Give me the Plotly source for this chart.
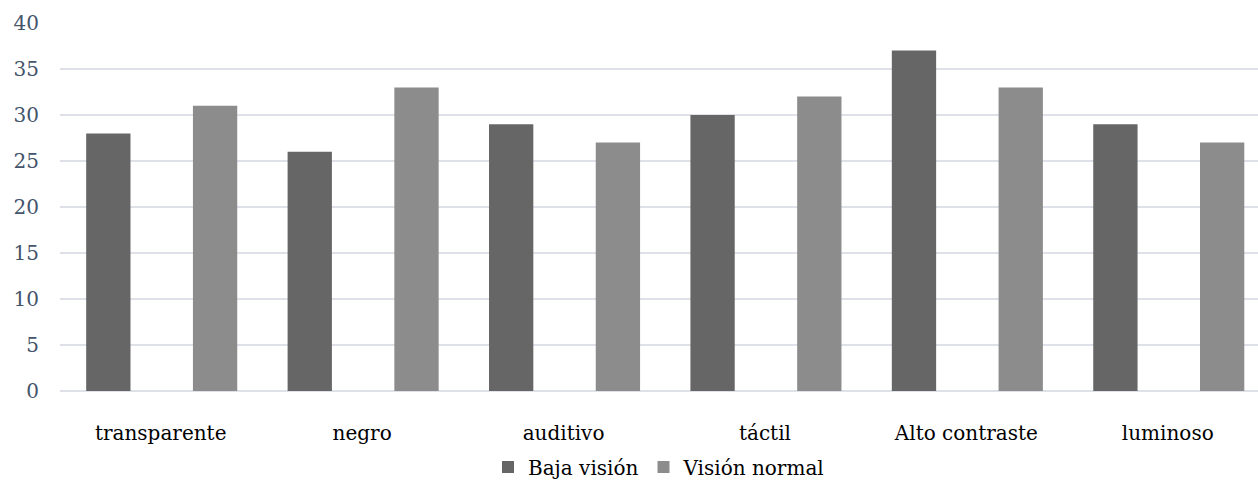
import plotly.graph_objects as go

categories = ["transparente", "negro", "auditivo", "táctil", "Alto contraste", "luminoso"]
baja_vision = [28, 26, 29, 30, 37, 29]
vision_normal = [31, 33, 27, 32, 33, 27]
y_ticks = [0, 5, 10, 15, 20, 25, 30, 35, 40]

x_idx = list(range(len(categories)))

fig = go.Figure()
fig.add_trace(go.Bar(
    x=x_idx, y=baja_vision, name="Baja visión",
    marker=dict(color="#666666", line=dict(width=0)),
    width=0.22, offset=-0.37,
))
fig.add_trace(go.Bar(
    x=x_idx, y=vision_normal, name="Visión normal",
    marker=dict(color="#8c8c8c", line=dict(width=0)),
    width=0.22, offset=0.16,
))

fig.update_layout(
    width=1258, height=485,
    margin=dict(l=60, r=0, t=23, b=94, autoexpand=False),
    plot_bgcolor="white", paper_bgcolor="white",
    font=dict(family="DejaVu Serif", size=20, color="#000000"),
    barmode="overlay",
    showlegend=True,
    legend=dict(
        orientation="h", x=0.5, xanchor="center",
        yref="container", y=0.037, yanchor="middle",
        font=dict(family="DejaVu Serif", size=20, color="#000000"),
        itemwidth=30, traceorder="normal",
    ),
    xaxis=dict(
        tickmode="array", tickvals=x_idx, ticktext=categories,
        range=[-0.5, 5.448], showgrid=False, zeroline=False,
        showline=False, ticks="", ticklabelstandoff=28,
        tickfont=dict(family="DejaVu Serif", size=20, color="#000000"),
    ),
    yaxis=dict(
        range=[0, 40], tickvals=y_ticks, showgrid=True,
        gridcolor="#DEE2E8", gridwidth=1.5,
        zeroline=True, zerolinecolor="#DEE2E8", zerolinewidth=1.5,
        showline=False, ticks="", ticklabelstandoff=20,
        tickfont=dict(family="DejaVu Serif", size=20, color="#44546A"),
    ),
)

fig.write_html("out.html")
